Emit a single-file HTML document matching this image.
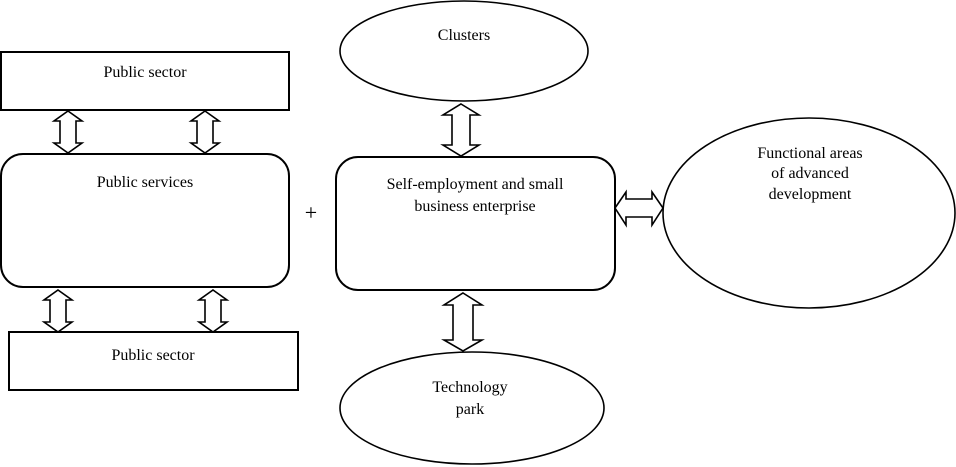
<!DOCTYPE html>
<html><head><meta charset="utf-8"><style>
html,body{margin:0;padding:0;background:#fff;}
svg{display:block;}
text{font-family:"Liberation Serif",serif;font-size:16px;fill:#000;}
</style></head><body>
<svg width="956" height="467" viewBox="0 0 956 467" xmlns="http://www.w3.org/2000/svg">
<g fill="#fff" stroke="#000" stroke-width="2">
<rect x="1" y="52" width="288" height="58"/>
<rect x="1" y="154" width="288" height="133" rx="22"/>
<rect x="9" y="332" width="289" height="58"/>
<rect x="336" y="157" width="279" height="133" rx="22"/>
</g>
<g fill="#fff" stroke="#000" stroke-width="1.6">
<ellipse cx="464" cy="51" rx="124" ry="50"/>
<ellipse cx="809" cy="213" rx="146" ry="95"/>
<ellipse cx="472" cy="408" rx="132" ry="56"/>
<path d="M68 111 L82 121 L76 121 L76 143 L82 143 L68 153 L54 143 L60 143 L60 121 L54 121 Z"/>
<path d="M205 111 L219 121 L213 121 L213 143 L219 143 L205 153 L191 143 L197 143 L197 121 L191 121 Z"/>
<path d="M58 290 L72 300 L66 300 L66 322 L72 322 L58 332 L44 322 L50 322 L50 300 L44 300 Z"/>
<path d="M213 290 L227 300 L221 300 L221 322 L227 322 L213 332 L199 322 L205 322 L205 300 L199 300 Z"/>
<path d="M461 104 L479 115 L470 115 L470 145 L479 145 L461 156 L443 145 L452 145 L452 115 L443 115 Z"/>
<path d="M463 293 L482 305 L473 305 L473 340 L482 340 L463 351 L444 340 L453 340 L453 305 L444 305 Z"/>
<path d="M615 208 L626 192 L626 199 L652 199 L652 192 L663 208 L652 225 L652 217 L626 217 L626 225 Z"/>
</g>
<text x="145" y="77" text-anchor="middle">Public sector</text>
<text x="145" y="187" text-anchor="middle">Public services</text>
<text x="153" y="360" text-anchor="middle">Public sector</text>
<text x="464" y="40" text-anchor="middle">Clusters</text>
<text x="475" y="189" text-anchor="middle">Self-employment and small</text>
<text x="475" y="211" text-anchor="middle">business enterprise</text>
<text x="810" y="158" text-anchor="middle">Functional areas</text>
<text x="810" y="178" text-anchor="middle">of advanced</text>
<text x="810" y="199" text-anchor="middle">development</text>
<text x="470" y="392" text-anchor="middle">Technology</text>
<text x="470" y="414" text-anchor="middle">park</text>
<text x="311" y="220" text-anchor="middle" style="font-size:22px">+</text>
</svg>
</body></html>
